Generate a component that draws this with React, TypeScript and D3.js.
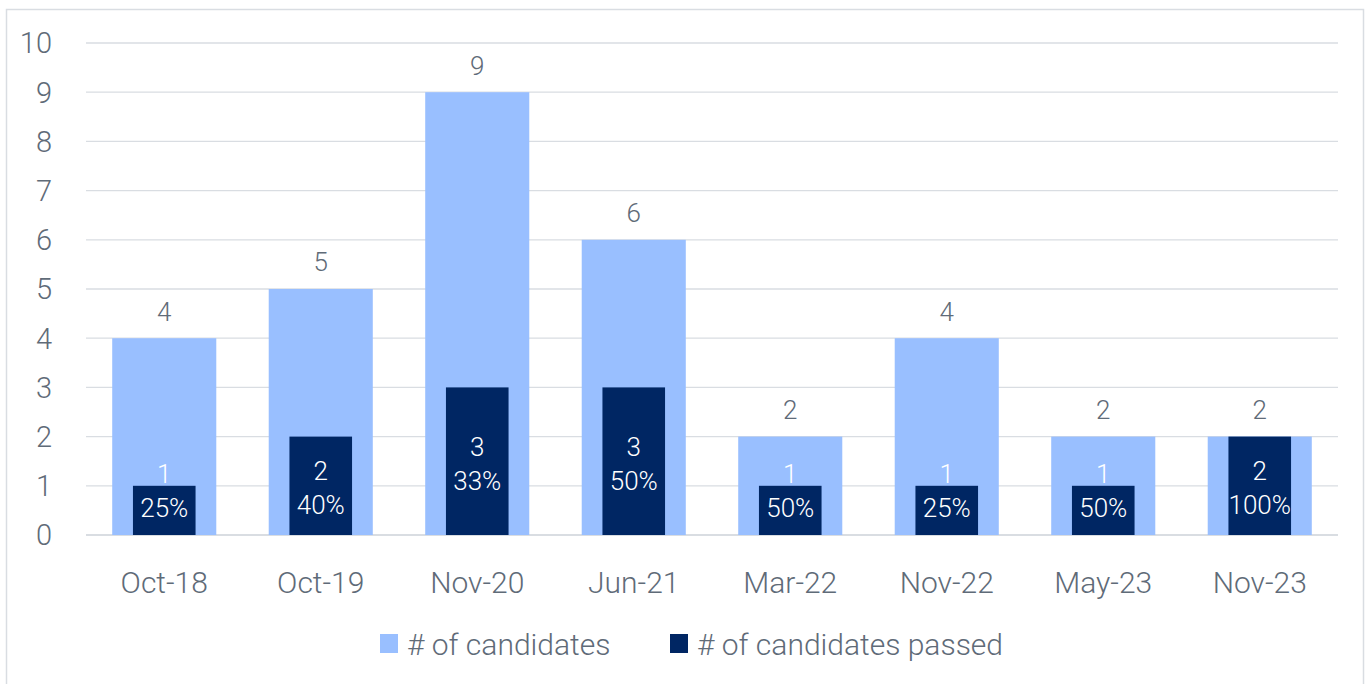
import { useEffect, useRef } from 'react';
import * as d3 from 'd3';

const sessions = ['Oct-18', 'Oct-19', 'Nov-20', 'Jun-21', 'Mar-22', 'Nov-22', 'May-23', 'Nov-23'];
const candidates = [4, 5, 9, 6, 2, 4, 2, 2];
const passed = [1, 2, 3, 3, 1, 1, 1, 2];
const passRate = ['25%', '40%', '33%', '50%', '50%', '25%', '50%', '100%'];
const yTicks = [0, 1, 2, 3, 4, 5, 6, 7, 8, 9, 10];

const LIGHT = '#99BFFF';
const DARK = '#002663';
const TEXT = '#5F6B78';
const FONT = 'Roboto, "Noto Sans", sans-serif';

const App = () => {
  const svgRef = useRef<SVGSVGElement>(null);

  useEffect(() => {
    const width = 1370;
    const height = 684;
    const margin = { top: 43, right: 32, bottom: 149, left: 86 };

    const svg = d3.select(svgRef.current)
      .attr('width', width)
      .attr('height', height);
    svg.selectAll('*').remove();

    svg.append('rect')
      .attr('x', 6.5).attr('y', 9.5)
      .attr('width', 1357).attr('height', 690)
      .attr('fill', '#fff')
      .attr('stroke', '#D9DDE2')
      .attr('stroke-width', 1.5);

    const x = d3.scaleBand()
      .domain(sessions)
      .range([margin.left, width - margin.right])
      .paddingInner(0)
      .paddingOuter(0);

    const y = d3.scaleLinear()
      .domain([0, 10])
      .range([height - margin.bottom, margin.top]);

    // gridlines
    svg.append('g')
      .selectAll('line')
      .data(yTicks)
      .enter().append('line')
      .attr('x1', margin.left)
      .attr('x2', width - margin.right)
      .attr('y1', d => y(d))
      .attr('y2', d => y(d))
      .attr('stroke', '#D9DDE2')
      .attr('stroke-width', d => d === 0 ? 2 : 1.3);

    svg.append('g')
      .selectAll('text')
      .data(yTicks)
      .enter().append('text')
      .attr('x', 52)
      .attr('y', d => y(d))
      .attr('dy', '0.36em')
      .attr('text-anchor', 'end')
      .attr('font-family', FONT)
      .attr('font-weight', 300)
      .attr('font-size', 29)
      .attr('fill', TEXT)
      .text(d => d);

    const bw = x.bandwidth();
    const lightW = bw * 0.665;
    const darkW = bw * 0.4;
    const cx = (s: string) => (x(s) as number) + bw / 2;

    svg.append('g')
      .selectAll('rect')
      .data(sessions)
      .enter().append('rect')
      .attr('x', d => cx(d) - lightW / 2)
      .attr('y', (d, i) => y(candidates[i]))
      .attr('width', lightW)
      .attr('height', (d, i) => y(0) - y(candidates[i]))
      .attr('fill', LIGHT);

    svg.append('g')
      .selectAll('rect')
      .data(sessions)
      .enter().append('rect')
      .attr('x', d => cx(d) - darkW / 2)
      .attr('y', (d, i) => y(passed[i]))
      .attr('width', darkW)
      .attr('height', (d, i) => y(0) - y(passed[i]))
      .attr('fill', DARK);

    // totals above the light bars
    svg.append('g')
      .selectAll('text')
      .data(sessions)
      .enter().append('text')
      .attr('x', d => cx(d))
      .attr('y', (d, i) => y(candidates[i]) - 27)
      .attr('dy', '0.36em')
      .attr('text-anchor', 'middle')
      .attr('font-family', FONT)
      .attr('font-weight', 300)
      .attr('font-size', 26)
      .attr('fill', TEXT)
      .text((d, i) => candidates[i]);

    // passed count + rate inside the dark bars
    const inner = svg.append('g')
      .selectAll('g')
      .data(sessions)
      .enter().append('g')
      .attr('transform', (d, i) => {
        const top = y(passed[i]);
        const bottom = y(0);
        const c = Math.min((top + bottom) / 2 + 2, bottom - 44);
        return `translate(${cx(d)},${c})`;
      });

    inner.append('text')
      .attr('y', -17)
      .attr('dy', '0.36em')
      .attr('text-anchor', 'middle')
      .attr('font-family', FONT)
      .attr('font-weight', 300)
      .attr('font-size', 26)
      .attr('fill', '#fff')
      .text((d, i) => passed[i]);

    inner.append('text')
      .attr('y', 17)
      .attr('dy', '0.36em')
      .attr('text-anchor', 'middle')
      .attr('font-family', FONT)
      .attr('font-weight', 300)
      .attr('font-size', 26)
      .attr('fill', '#fff')
      .text((d, i) => passRate[i]);

    // category labels
    svg.append('g')
      .selectAll('text')
      .data(sessions)
      .enter().append('text')
      .attr('x', d => cx(d))
      .attr('y', 582)
      .attr('dy', '0.36em')
      .attr('text-anchor', 'middle')
      .attr('font-family', FONT)
      .attr('font-weight', 300)
      .attr('font-size', 30)
      .attr('fill', TEXT)
      .text(d => d);

    // legend
    const legend = [
      { label: '# of candidates', color: LIGHT, x: 380 },
      { label: '# of candidates passed', color: DARK, x: 670 },
    ];
    const lg = svg.append('g')
      .selectAll('g')
      .data(legend)
      .enter().append('g')
      .attr('transform', d => `translate(${d.x},644)`);
    lg.append('rect')
      .attr('x', 0).attr('y', -10)
      .attr('width', 18).attr('height', 19)
      .attr('fill', d => d.color);
    lg.append('text')
      .attr('x', 27)
      .attr('dy', '0.36em')
      .attr('font-family', FONT)
      .attr('font-weight', 300)
      .attr('font-size', 30)
      .attr('fill', TEXT)
      .text(d => d.label);
  }, []);

  return <svg ref={svgRef} style={{ position: 'absolute', left: 0, top: 0 }}></svg>;
};

export default App;
